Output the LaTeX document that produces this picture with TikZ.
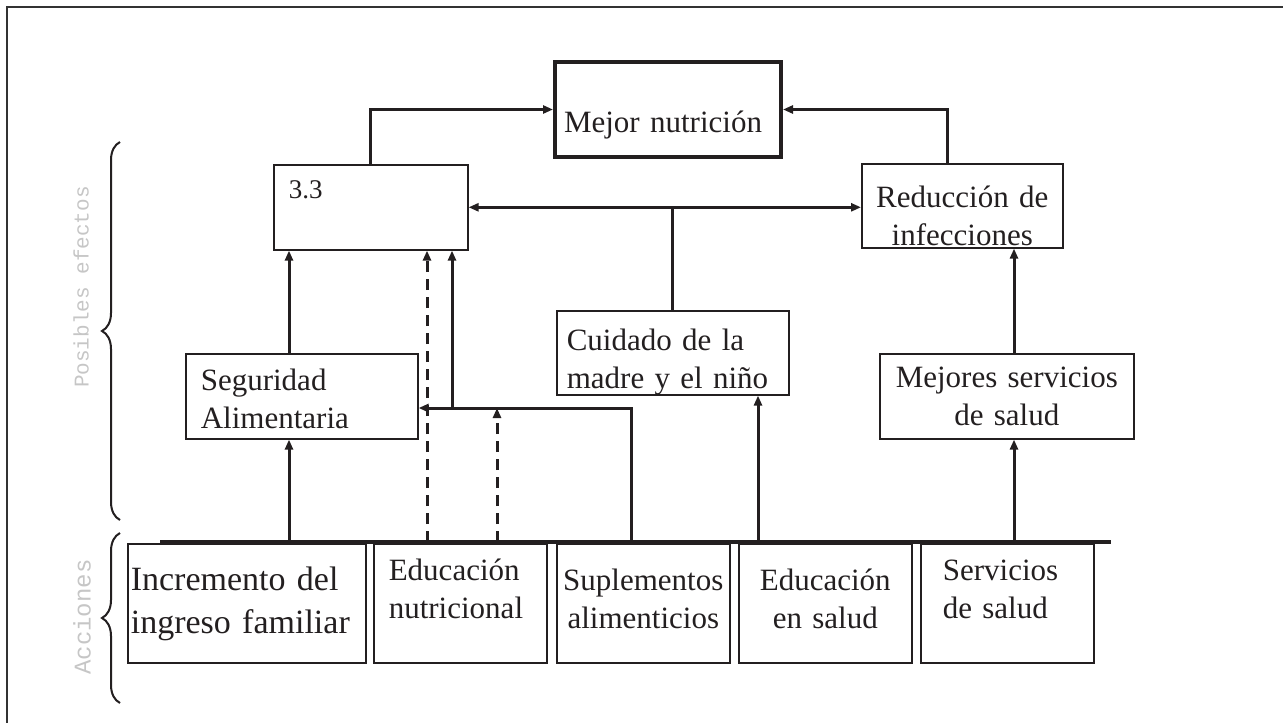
\documentclass[tikz,border=0pt]{standalone}
\usepackage{fontspec}
\setmainfont{Liberation Serif}
\setmonofont{Liberation Mono}
\usetikzlibrary{positioning,arrows.meta,decorations.pathreplacing}
\definecolor{ink}{RGB}{35,31,32}
\tikzset{
    box/.style={draw=ink, text=ink, line width=1.6pt, anchor=north west,
        font=\fontsize{31}{38}\selectfont},
    lift/.style={text height=0pt, text depth=#1},
    arr/.style={draw=ink, line width=3pt, -{Triangle[length=10pt,width=8pt]}},
    arrs/.style={draw=ink, line width=3pt,
        {Triangle[length=10pt,width=8pt]}-{Triangle[length=10pt,width=8pt]}},
    dashy/.style={dash pattern=on 11pt off 7pt},
    barline/.style={draw=ink, line width=3.5pt},
    brc/.style={draw=ink, line width=2pt, decorate,
        decoration={brace, amplitude=18pt}},
    sidetext/.style={rotate=90, text=gray!45, font=\ttfamily\fontsize{21}{21}\selectfont}
}

\begin{document}
\begin{tikzpicture}[x=1pt, y=-1pt]
\useasboundingbox (0,0) rectangle (1283,723);
\draw[draw=black!80, line width=1.5pt] (7,723) -- (7,7) -- (1283,7);

\node[box, line width=4pt, minimum width=226pt, minimum height=95pt, inner xsep=9pt,
    text width=208pt, align=left, text height=45pt, text depth=0pt] (nut) at (553,60) {Mejor nutrición};
\node[box, minimum width=194pt, minimum height=85pt, inner xsep=15pt, text width=164pt,
    align=left, font=\fontsize{27}{30}\selectfont, lift=17pt] (tres) at (273,164) {3.3};
\node[box, minimum width=201pt, minimum height=84pt, inner xsep=4pt, text width=193pt,
    align=center, text height=4pt, text depth=0pt] (red) at (861,163) {Reducción de\\infecciones};
\node[box, minimum width=232pt, minimum height=84pt, inner xsep=10pt, text width=212pt,
    align=left, lift=4pt] (cuid) at (556,310) {Cuidado de la\\madre y el niño};
\node[box, minimum width=232pt, minimum height=85pt, inner xsep=15pt, text width=202pt,
    align=left, lift=11pt] (seg) at (185,353) {Seguridad\\Alimentaria};
\node[box, minimum width=254pt, minimum height=85pt, inner xsep=5pt, text width=244pt,
    align=center, lift=17pt] (serv) at (879,353) {Mejores servicios\\de salud};

\node[box, minimum width=238pt, minimum height=119pt, inner xsep=3pt, text width=232pt,
    align=left, font=\fontsize{34}{43}\selectfont, lift=25pt] (ingr) at (127,543) {Incremento del\\ingreso familiar};
\node[box, minimum width=173pt, minimum height=119pt, inner xsep=15pt, text width=143pt,
    align=left, lift=45pt] (edn) at (373,543) {Educación\\nutricional};
\node[box, minimum width=173pt, minimum height=119pt, inner xsep=3pt, text width=167pt,
    align=center, lift=25pt] (supl) at (556,543) {Suplementos\\alimenticios};
\node[box, minimum width=173pt, minimum height=119pt, inner xsep=3pt, text width=167pt,
    align=center, lift=25pt] (eds) at (738,543) {Educación\\en salud};
\node[box, minimum width=173pt, minimum height=119pt, inner xsep=22pt, text width=129pt,
    align=left, lift=45pt] (ssal) at (920,543) {Servicios\\de salud};

\node[sidetext] (pos) at (81,287) {Posibles efectos};
\node[sidetext, font=\ttfamily\fontsize{24}{24}\selectfont] (acc) at (82,617) {Acciones};
\draw[brc] (120,520) -- (120,142);
\draw[brc] (120,703) -- (120,533);

\coordinate (barl) at (160,542);
\coordinate (barr) at (1111,542);
\coordinate (b1) at (289,542);
\coordinate (b2) at (427,542);
\coordinate (b3) at (497,542);
\coordinate (b4) at (631,542);
\coordinate (b5) at (758,542);
\coordinate (b6) at (1014,542);
\coordinate (j) at (631,408);
\coordinate (k) at (452,408);
\draw[barline] (barl) -- (barr);

\draw[arr] (tres.north) |- (nut.west);
\draw[arr] ([xshift=-14.5pt]red.north) |- (nut.east);
\draw[arrs] (tres.east) -- (tres.east -| red.west);
\draw[draw=ink, line width=3pt] (cuid.north) -- (cuid.north |- tres.east);
\draw[arr] (b1) -- (b1 |- seg.south);
\draw[arr] (b1 |- seg.north) -- (b1 |- tres.south);
\draw[arr, dashy] (b2) -- (b2 |- tres.south);
\draw[arr] (b4) |- (j -| seg.east);
\draw[arr] (k) -- (k |- tres.south);
\draw[arr, dashy] (b3) -- (b3 |- j);
\draw[arr] (b5) -- (b5 |- cuid.south);
\draw[arr] (b6) -- (b6 |- serv.south);
\draw[arr] (b6 |- serv.north) -- (b6 |- red.south);
\end{tikzpicture}
\end{document}
